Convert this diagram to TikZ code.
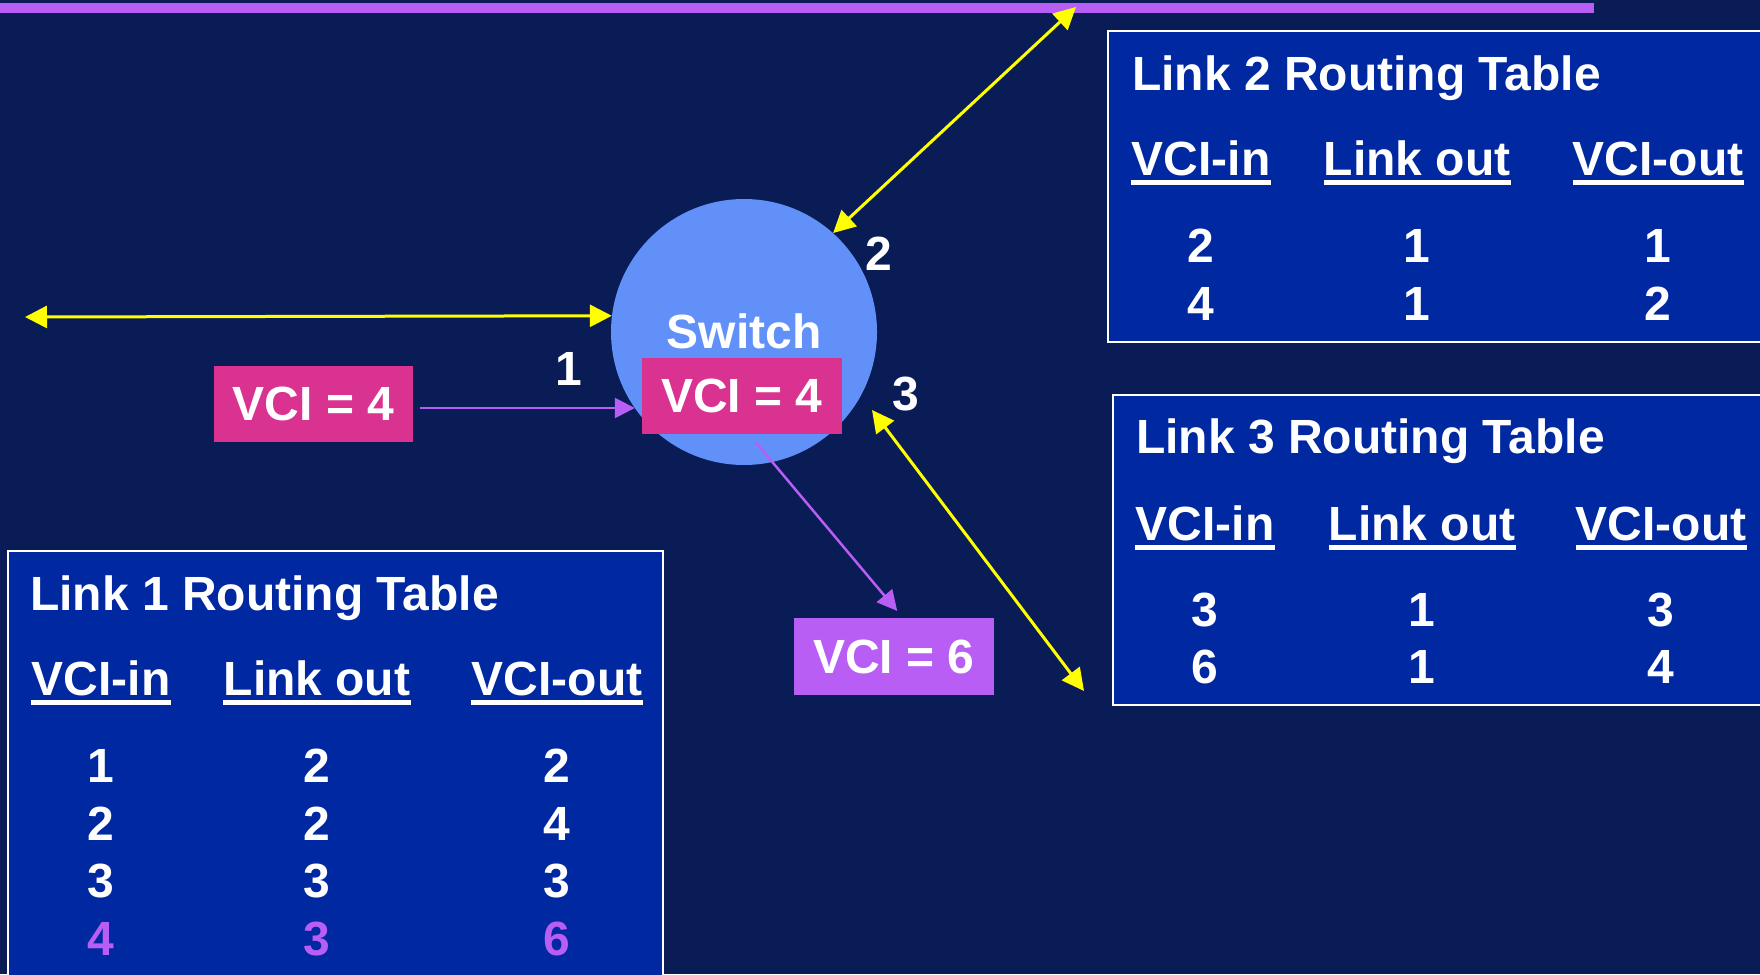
\documentclass[tikz,border=0pt]{standalone}
\usepackage{fontspec}
\setmainfont{Liberation Sans}
\usetikzlibrary{arrows.meta}
\definecolor{bg}{HTML}{0A1C56}
\definecolor{tblfill}{HTML}{0028A0}
\definecolor{swblue}{HTML}{6190F8}
\definecolor{mag}{HTML}{D93290}
\definecolor{purp}{HTML}{B85EF4}
\definecolor{yel}{HTML}{FFFF00}
\newcommand\mkhdr[3]{%
  \node[hdr] (#1) at #2 {#3};
  \draw[white, line width=4.5pt] ([yshift=-7.5pt]#1.base west) -- ([yshift=-7.5pt]#1.base east);}
\begin{document}
\begin{tikzpicture}[x=1pt,y=-1pt,
  big/.style={font=\fontsize{48}{58}\selectfont\bfseries, text=white, inner sep=0pt},
  tbl/.style={draw=white, line width=2.5pt, fill=tblfill},
  vbox/.style={big, minimum width=200pt, minimum height=76pt},
  yarrow/.style={draw=yel, line width=3pt, {Triangle[length=22pt,width=22pt]}-{Triangle[length=22pt,width=22pt]}},
  parrow/.style={draw=purp, line width=2.5pt, -{Triangle[length=20pt,width=20pt]}},
  hdr/.style={big, anchor=base},
  cell/.style={big, anchor=base},
  ttl/.style={big, anchor=base west}]
\useasboundingbox (0,0) rectangle (1760,974);
\clip (0,0) rectangle (1760,974);
\fill[bg] (0,0) rectangle (1760,974);
\fill[purp] (0,3) rectangle (1594,13);

% tables
\path[tbl] (8,551) rectangle (663,990);
\path[tbl] (1108,31) rectangle (1775,342);
\path[tbl] (1113,395) rectangle (1775,705);

% Link 1 table
\node[ttl] (t1t) at (30,610) {Link 1 Routing Table};
\mkhdr{t1h1}{(101,695)}{VCI-in}
\mkhdr{t1h2}{(317,695)}{Link out}
\mkhdr{t1h3}{(557,695)}{VCI-out}
\foreach \a/\b/\c/\y [count=\i] in {1/2/2/782, 2/2/4/840, 3/3/3/897}{
  \node[cell] (t1r\i c1) at (101,\y) {\a};
  \node[cell] (t1r\i c2) at (317,\y) {\b};
  \node[cell] (t1r\i c3) at (557,\y) {\c};
}
\node[cell, text=purp] (t1r4c1) at (101,955) {4};
\node[cell, text=purp] (t1r4c2) at (317,955) {3};
\node[cell, text=purp] (t1r4c3) at (557,955) {6};

% Link 2 table
\node[ttl] (t2t) at (1132,90) {Link 2 Routing Table};
\mkhdr{t2h1}{(1201,175)}{VCI-in}
\mkhdr{t2h2}{(1417,175)}{Link out}
\mkhdr{t2h3}{(1658,175)}{VCI-out}
\foreach \a/\b/\c/\y [count=\i] in {2/1/1/262, 4/1/2/320}{
  \node[cell] (t2r\i c1) at (1201,\y) {\a};
  \node[cell] (t2r\i c2) at (1417,\y) {\b};
  \node[cell] (t2r\i c3) at (1658,\y) {\c};
}

% Link 3 table
\node[ttl] (t3t) at (1136,453) {Link 3 Routing Table};
\mkhdr{t3h1}{(1205,540)}{VCI-in}
\mkhdr{t3h2}{(1422,540)}{Link out}
\mkhdr{t3h3}{(1661,540)}{VCI-out}
\foreach \a/\b/\c/\y [count=\i] in {3/1/3/626, 6/1/4/683}{
  \node[cell] (t3r\i c1) at (1205,\y) {\a};
  \node[cell] (t3r\i c2) at (1422,\y) {\b};
  \node[cell] (t3r\i c3) at (1661,\y) {\c};
}

% switch
\node[circle, fill=swblue, minimum size=266pt, inner sep=0pt] (sw) at (744,332) {};
\node[big, anchor=base] (swl) at (744,348) {Switch};
\node[vbox, fill=mag] (v2) at (742,396) {VCI = 4};
\node[vbox, fill=mag, minimum width=199pt] (v1) at (313.5,404) {VCI = 4};
\node[vbox, fill=purp, minimum height=77pt] (v3) at (894,656.5) {VCI = 6};

% port labels
\node[big, anchor=base] (l1) at (569,385) {1};
\node[big, anchor=base] (l2) at (879,270) {2};
\node[big, anchor=base] (l3) at (906,410) {3};

% yellow links
\coordinate (yl) at (25,317);
\coordinate (y2) at (1076,7);
\coordinate (y3a) at (872,410);
\coordinate (y3b) at (1084,691);
\draw[yarrow] (yl) -- (sw.173.5);
\draw[yarrow] (sw.48) -- (y2);
\draw[yarrow] (y3a) -- (y3b);

% purple flow
\draw[parrow, shorten <=7pt, shorten >=7pt] ([yshift=-4pt]v1.east) -- ([yshift=-12pt]v2.west);
\draw[parrow, shorten <=10.6pt, shorten >=9pt] ([xshift=7pt]v2.south) -- ([xshift=9pt]v3.north);
\end{tikzpicture}
\end{document}
